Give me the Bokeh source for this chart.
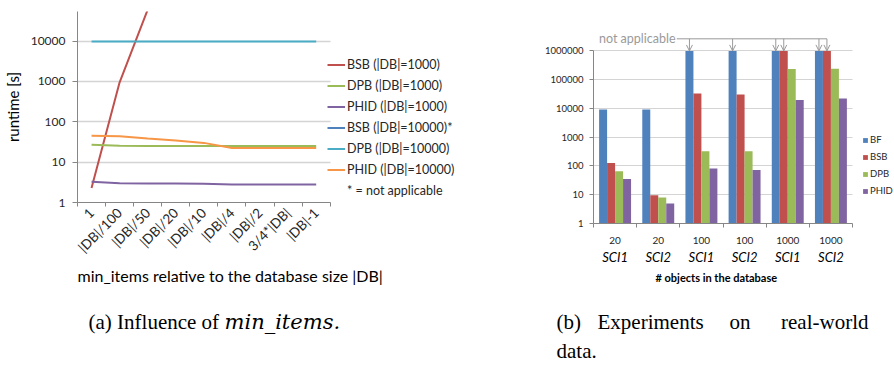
import math
from bokeh.plotting import figure
from bokeh.models import (FixedTicker, PrintfTickFormatter, Legend, LegendItem, Label,
                          Arrow, OpenHead, LinearAxis, Range1d, Title, Grid)
from bokeh.layouts import row, column
from bokeh.embed import file_html
from bokeh.resources import INLINE

NAN = float("nan")

# ---------------- left chart data (runtime [s]) ----------------
min_items_labels = ["1", "|DB|/100", "|DB|/50", "|DB|/20", "|DB|/10",
                    "|DB|/4", "|DB|/2", "3/4*|DB|", "|DB|-1"]
bsb_1000 = [2.3, 950, 60000, NAN, NAN, NAN, NAN, NAN, NAN]
dpb_1000 = [27, 25.4, 25, 25, 25, 25, 25, 25, 25]
phid_1000 = [3.25, 3.0, 2.95, 2.95, 2.9, 2.8, 2.8, 2.8, 2.8]
bsb_10000 = [NAN, NAN, NAN, NAN, NAN, NAN, NAN, NAN, NAN]  # not applicable
dpb_10000 = [9700, 9700, 9700, 9700, 9700, 9700, 9700, 9700, 9700]
phid_10000 = [45, 44, 38.6, 34.4, 30, 22.5, 22.5, 22.5, 22.5]
left_yticks = [1, 10, 100, 1000, 10000]

# ---------------- right chart data (runtime [ms]) ----------------
db_sizes = ["20", "20", "100", "100", "1000", "1000"]
db_names = ["SCI1", "SCI2", "SCI1", "SCI2", "SCI1", "SCI2"]
bf = [9200, 9200, 1e6, 1e6, 1e6, 1e6]
bsb = [128, 9.5, 33000, 30500, 1e6, 1e6]
dpb = [66, 8, 326, 326, 237000, 240000]
phid = [35, 5, 82, 73, 19800, 22100]
bf_na = [False, False, True, True, True, True]
bsb_na = [False, False, False, False, True, True]
right_yticks = [1, 10, 100, 1000, 10000, 100000, 1000000]

FONT = "Lato"
SERIF = "Liberation Serif"
AXC = "#868686"
GRID = "#d4d4d4"
TXT = "#262626"
HAS_CROSS = "cross_bounds" in Grid.properties()
TOP, BOTTOM = 11, 86

# ======================= LEFT FIGURE =======================
n1 = len(min_items_labels)
xs1 = list(range(n1))
W1, FW1, PLOT_W1, FH1 = 478, 403, 254, 191
x_end1 = -0.5 + FW1 * n1 / PLOT_W1
p1 = figure(width=W1, height=TOP + FH1 + BOTTOM, y_axis_type="log", title=None,
            x_range=Range1d(-0.5, x_end1), y_range=Range1d(1, 54000),
            output_backend="svg", toolbar_location=None,
            min_border_left=W1 - FW1, min_border_right=0, min_border_top=TOP,
            min_border_bottom=BOTTOM)
p1.outline_line_color = None
p1.xgrid.visible = False
if HAS_CROSS:
    p1.ygrid.grid_line_color = GRID
    p1.ygrid.grid_line_width = 1.5
    p1.ygrid.cross_bounds = (-0.5, n1 - 0.5)
else:
    p1.ygrid.visible = False
    p1.segment(x0=-0.5, x1=n1 - 0.5, y0=left_yticks, y1=left_yticks,
               line_color=GRID, line_width=1.5)

xa = p1.xaxis[0]
xa.bounds = (-0.5, n1 - 0.5)
xa.ticker = FixedTicker(ticks=xs1, minor_ticks=[i - 0.5 for i in range(n1 + 1)])
xa.major_label_overrides = {i: lab for i, lab in enumerate(min_items_labels)}
xa.major_tick_line_color = None
xa.minor_tick_out = 4
xa.minor_tick_in = 0
xa.minor_tick_line_color = AXC
xa.axis_line_color = AXC
xa.major_label_orientation = math.pi / 4
xa.major_label_text_font = FONT
xa.major_label_text_font_size = "13.5px"
xa.major_label_text_color = TXT
xa.major_label_standoff = 2

ya = p1.yaxis[0]
ya.ticker = FixedTicker(ticks=left_yticks, minor_ticks=[])
ya.formatter = PrintfTickFormatter(format="%d")
ya.major_tick_out = 5
ya.major_tick_in = 0
ya.major_tick_line_color = AXC
ya.minor_tick_line_color = None
ya.axis_line_color = AXC
ya.major_label_text_font = FONT
ya.major_label_text_font_size = "12px"
ya.major_label_text_color = TXT
ya.major_label_standoff = 7
ya.axis_label = "runtime [s]"
ya.axis_label_text_font = FONT
ya.axis_label_text_font_size = "15px"
ya.axis_label_text_font_style = "normal"
ya.axis_label_text_color = "#000000"
ya.axis_label_standoff = 6

p1.add_layout(Title(text="min_items relative to the database size  |DB|", align="left",
                    text_font=FONT, text_font_size="16px", text_font_style="normal",
                    text_color="#000000", standoff=0), "below")

series1 = [
    ("BSB (|DB|=1000)", bsb_1000, "#C0504D"),
    ("DPB (|DB|=1000)", dpb_1000, "#9BBB59"),
    ("PHID (|DB|=1000)", phid_1000, "#8064A2"),
    ("BSB (|DB|=10000)*", bsb_10000, "#4F81BD"),
    ("DPB (|DB|=10000)", dpb_10000, "#4BACC6"),
    ("PHID (|DB|=10000)", phid_10000, "#F79646"),
]
items1 = []
for name, vals, col in series1:
    r = p1.line(xs1[:len(vals)], vals, line_color=col, line_width=2)
    items1.append(LegendItem(label=name, renderers=[r]))
r_note = p1.line([], [], line_alpha=0)
items1.append(LegendItem(label="* = not applicable", renderers=[r_note]))

leg1 = Legend(items=items1, location=(250, 1), padding=0, margin=0, spacing=0,
              glyph_width=18, glyph_height=21, label_height=21, label_standoff=2,
              label_text_font=FONT, label_text_font_size="12.5px", label_text_color=TXT,
              border_line_color=None, background_fill_alpha=0)
p1.add_layout(leg1, "center")

# ======================= RIGHT FIGURE =======================
n2 = len(db_sizes)
xs2 = list(range(n2))
W2, FW2, PLOT_W2 = 416, 301, 259
x_end2 = -0.5 + FW2 * n2 / PLOT_W2
FH2, PLOT_H2 = 212, 172.6                 # frame height, height of the 1..1e6 span (px)
y_end2 = 10 ** (6 * FH2 / PLOT_H2)
p2 = figure(width=W2, height=TOP + FH2 + BOTTOM, y_axis_type="log", title=None,
            x_range=Range1d(-0.5, x_end2), y_range=Range1d(1, y_end2),
            output_backend="svg", toolbar_location=None,
            min_border_left=W2 - FW2, min_border_right=0, min_border_top=TOP,
            min_border_bottom=BOTTOM)
p2.outline_line_color = None
p2.xgrid.visible = False
if HAS_CROSS:
    p2.ygrid.grid_line_color = GRID
    p2.ygrid.grid_line_width = 1
    p2.ygrid.cross_bounds = (-0.5, n2 - 0.5)
    p2.ygrid.bounds = (1, 1e6)
else:
    p2.ygrid.visible = False
    p2.segment(x0=-0.5, x1=n2 - 0.5, y0=right_yticks, y1=right_yticks,
               line_color=GRID, line_width=1)

bw = 0.185
series2 = [("BF", bf, "#4F81BD"), ("BSB", bsb, "#C0504D"),
           ("DPB", dpb, "#9BBB59"), ("PHID", phid, "#8064A2")]
items2 = []
for j, (name, vals, col) in enumerate(series2):
    xj = [x + (j - 1.5) * bw for x in xs2]
    r = p2.vbar(x=xj, top=vals, bottom=1, width=bw, fill_color=col, line_color=None)
    items2.append(LegendItem(label=name, renderers=[r]))

xa2 = p2.xaxis[0]
xa2.bounds = (-0.5, n2 - 0.5)
xa2.ticker = FixedTicker(ticks=xs2, minor_ticks=[i - 0.5 for i in range(n2 + 1)])
xa2.major_label_overrides = {i: lab for i, lab in enumerate(db_sizes)}
xa2.major_tick_line_color = None
xa2.minor_tick_out = 4
xa2.minor_tick_in = 0
xa2.minor_tick_line_color = AXC
xa2.axis_line_color = AXC
xa2.major_label_text_font = FONT
xa2.major_label_text_font_size = "10px"
xa2.major_label_text_color = TXT
xa2.major_label_standoff = 7

xa3 = LinearAxis(ticker=FixedTicker(ticks=xs2, minor_ticks=[]),
                 major_label_overrides={i: lab for i, lab in enumerate(db_names)})
xa3.axis_line_color = None
xa3.major_tick_line_color = None
xa3.minor_tick_line_color = None
xa3.major_tick_out = 0
xa3.major_label_text_font = FONT
xa3.major_label_text_font_style = "italic"
xa3.major_label_text_font_size = "13px"
xa3.major_label_text_color = "#000000"
xa3.major_label_standoff = 2
p2.add_layout(xa3, "below")
p2.add_layout(Title(text="# objects in the database", align="left", offset=62,
                    text_font=FONT, text_font_size="11px", text_font_style="bold",
                    text_color="#000000", standoff=3), "below")

ya2 = p2.yaxis[0]
ya2.ticker = FixedTicker(ticks=right_yticks, minor_ticks=[])
ya2.formatter = PrintfTickFormatter(format="%d")
ya2.bounds = (1, 1e6)
ya2.major_tick_out = 4
ya2.major_tick_in = 0
ya2.major_tick_line_color = AXC
ya2.minor_tick_line_color = None
ya2.axis_line_color = AXC
ya2.major_label_text_font = FONT
ya2.major_label_text_font_size = "9.5px"
ya2.major_label_text_color = TXT
ya2.major_label_standoff = 6
p2.add_layout(Label(x=-0.5, y=10 ** 3, x_offset=-58, text="runtime [ms]", angle=math.pi / 2,
                    text_font=FONT, text_font_size="11px", text_font_style="bold",
                    text_color="#000000", text_align="center", text_baseline="middle"))

leg2 = Legend(items=items2, location=(269, 24), padding=0, margin=0, spacing=0,
              glyph_width=6, glyph_height=6, label_height=17, label_standoff=2,
              label_text_font=FONT, label_text_font_size="9.5px", label_text_color=TXT,
              border_line_color=None, background_fill_alpha=0)
p2.add_layout(leg2, "center")

# "not applicable" annotation
NA_C = "#9a9a9a"
y_top = 10 ** 6.42
p2.add_layout(Label(x=1.40, y=y_top, text="not applicable", text_font=FONT,
                    text_font_size="12.5px", text_color=NA_C, text_align="right",
                    text_baseline="middle"))
na_x = []
for j, flags in ((0, bf_na), (1, bsb_na)):
    for i, f in enumerate(flags):
        if f:
            na_x.append(xs2[i] + (j - 1.5) * bw)
na_x.sort()
p2.add_layout(Arrow(x_start=1.43, y_start=y_top, x_end=max(na_x), y_end=y_top,
                    start=None, end=None, line_color=NA_C, line_width=1))
for xv in na_x:
    p2.add_layout(Arrow(x_start=xv, y_start=y_top, x_end=xv, y_end=1e6,
                        end=OpenHead(size=6, line_color=NA_C, line_width=1),
                        line_color=NA_C, line_width=1))

# ======================= CAPTIONS =======================
CW, CH = W1 + W2, 368 - (TOP + FH2 + BOTTOM)
cap = figure(width=CW, height=CH, x_range=Range1d(0, CW), y_range=Range1d(CH, 0),
             output_backend="svg", toolbar_location=None, title=None,
             x_axis_location=None, y_axis_location=None,
             min_border_left=0, min_border_right=0, min_border_top=0, min_border_bottom=0)
cap.outline_line_color = None
cap.grid.visible = False


def cap_text(x, y, t, font=SERIF, size="21px", style="normal", align="left"):
    cap.add_layout(Label(x=x, y=y, text=t, text_font=font, text_font_size=size,
                         text_font_style=style, text_color="#000000",
                         text_align=align, text_baseline="middle"))


cap_text(88, 12, "(a) Influence of")
cap_text(224, 12, "min_items.", font="DejaVu Serif", size="21px", style="italic")
cap_text(556, 12, "(b)")
cap_text(597, 12, "Experiments")
cap_text(729, 12, "on")
cap_text(868, 12, "real-world", align="right")
cap_text(556, 41, "data.")

layout = column(row(p1, p2), cap)
open("out.html", "w").write(file_html(layout, INLINE))
